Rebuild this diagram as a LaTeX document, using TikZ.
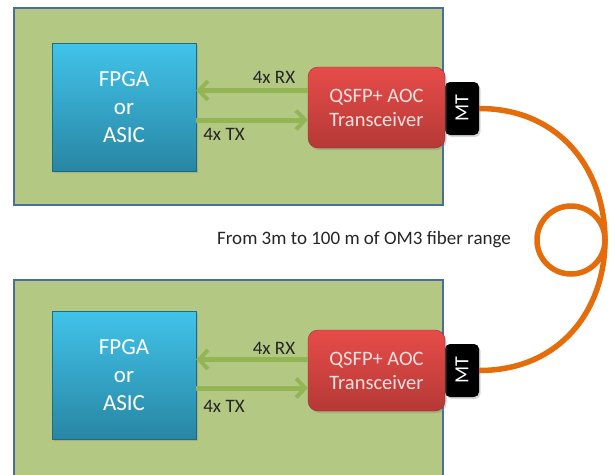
\documentclass[tikz,border=0pt]{standalone}
\usepackage{fontspec}
\setmainfont{Carlito}
\usetikzlibrary{arrows.meta,shadows}
\definecolor{boardfill}{HTML}{B3C983}
\definecolor{boarddraw}{HTML}{4A6E9E}
\definecolor{sigcol}{HTML}{93B553}
\definecolor{fibercol}{HTML}{E46C0A}
\definecolor{chiptop}{HTML}{41C3EA}
\definecolor{chipbot}{HTML}{2886A3}
\definecolor{trtop}{HTML}{E64C49}
\definecolor{trbot}{HTML}{B53936}
\definecolor{trtext}{HTML}{F6E0DF}
\tikzset{
  board/.style={fill=boardfill, draw=boarddraw, line width=1.6pt},
  chip/.style={rectangle, minimum width=144pt, minimum height=128pt, inner sep=0pt,
    top color=chiptop, bottom color=chipbot, draw=chipbot!80!black, line width=0.4pt,
    drop shadow={shadow xshift=1.5pt, shadow yshift=-2pt, opacity=0.35},
    text=white, align=center, font=\fontsize{23}{28}\selectfont},
  trans/.style={rectangle, rounded corners=10pt, minimum width=137pt, minimum height=81pt, inner sep=0pt,
    top color=trtop, bottom color=trbot, draw=trbot!85!black, line width=0.4pt,
    drop shadow={shadow xshift=1.5pt, shadow yshift=-2pt, opacity=0.35},
    text=trtext, align=center, font=\fontsize{20.5}{24}\selectfont},
  mtbox/.style={rectangle, rounded corners=5pt, minimum width=34pt, minimum height=53pt, inner sep=0pt,
    fill=black, text=white, font=\fontsize{20}{22}\selectfont,
    drop shadow={shadow xshift=1.5pt, shadow yshift=-2pt, opacity=0.3}},
  sig/.style={draw=sigcol, line width=5pt,
    arrows={-Straight Barb[length=9pt, width=19pt, line width=4pt]}},
  lbl/.style={font=\fontsize{19}{21}\selectfont, text=black!85, inner sep=0pt},
  fiber/.style={draw=fibercol, line width=5.5pt}
}
\begin{document}
\begin{tikzpicture}[x=1pt,y=-1pt]
\useasboundingbox (0,0) rectangle (615,474);
\fill[white] (0,0) rectangle (615,474);

% boards
\begin{scope}
\clip (0,0) rectangle (615,474);
\draw[board] (14,8) rectangle (443,205);
\draw[board] (14,280) rectangle (443,490);
\end{scope}

% top board
\node[chip] (f1) at (124,107) {FPGA\\or\\ASIC};
\node[mtbox] (m1) at (462,108.5) {\rotatebox{90}{MT}};
\node[trans] (t1) at (376.5,107.5) {QSFP+ AOC\\Transceiver};
\draw[sig] ([yshift=17pt]t1.west) -- ([yshift=17pt]t1.west -| f1.east);
\draw[sig] ([yshift=-13pt]f1.east) -- ([yshift=-13pt]f1.east -| t1.west);
\node[lbl] (rx1) at (274,77) {4x RX};
\node[lbl] (tx1) at (224,134) {4x TX};

% bottom board
\node[chip] (f2) at (124,375) {FPGA\\or\\ASIC};
\node[mtbox] (m2) at (462,370.5) {\rotatebox{90}{MT}};
\node[trans] (t2) at (376.5,370.5) {QSFP+ AOC\\Transceiver};
\draw[sig] ([yshift=11pt]t2.west) -- ([yshift=11pt]t2.west -| f2.east);
\draw[sig] ([yshift=-13pt]f2.east) -- ([yshift=-13pt]f2.east -| t2.west);
\node[lbl] (rx2) at (274,348) {4x RX};
\node[lbl] (tx2) at (224,406) {4x TX};

% fiber
\node[draw=fibercol, line width=5.5pt, circle, minimum size=68pt, inner sep=0pt] (loop) at (571,240) {};
\draw[fiber] (m1.east) .. controls (560,108.5) and (605,170) .. (605,240)
   .. controls (605,310) and (560,370.5) .. (m2.east);

\node[lbl] (range) at (364,240) {From 3m to 100 m of OM3 fiber range};
\end{tikzpicture}
\end{document}
